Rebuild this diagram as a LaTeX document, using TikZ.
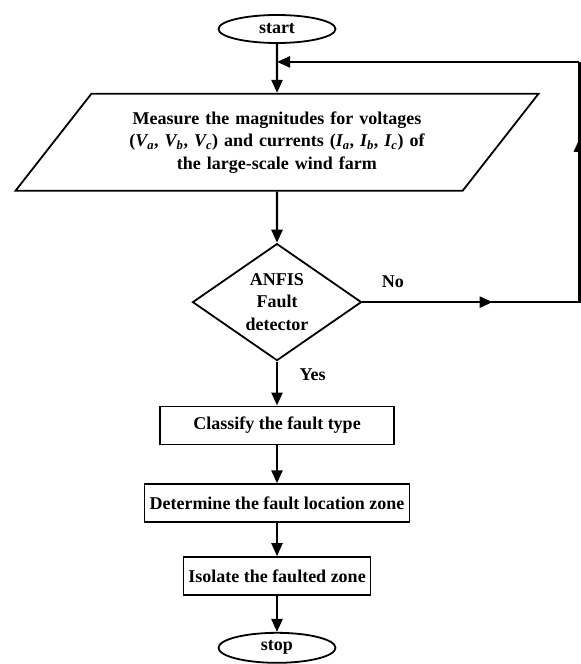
\documentclass[tikz,border=0pt]{standalone}
\usepackage{fontspec}
\setmainfont{Liberation Serif}
\usetikzlibrary{shapes.geometric, arrows.meta, positioning}
\newcommand{\flowfont}{\fontsize{18}{22.5}\selectfont\bfseries}
\tikzset{
  startstop/.style={ellipse, draw, line width=1.8pt, minimum width=117pt,
    minimum height=28pt, inner sep=0pt, font=\flowfont},
  io/.style={trapezium, trapezium left angle=42, trapezium right angle=138,
    trapezium stretches body, draw, line width=1.8pt, text width=300pt,
    align=center, minimum width=523pt, minimum height=97pt, font=\flowfont},
  decision/.style={diamond, aspect=1.44, draw, line width=1.8pt, minimum width=169pt,
    minimum height=117pt, inner sep=0pt, align=center, font=\flowfont},
  process/.style={rectangle, draw, line width=1.8pt, minimum height=38pt,
    inner xsep=2pt, font=\flowfont},
  lbl/.style={font=\flowfont},
  arrow/.style={-{Triangle[length=13pt,width=11pt]}, line width=2.4pt},
  line/.style={line width=2.4pt}
}

\begin{document}
\begin{tikzpicture}
  \useasboundingbox (0,0) rectangle (581pt,-664pt);

  % Nodes
  \node[startstop] (start) at (277pt,-29pt) {start};
  \node[io, below=49pt of start] (meas) {Measure the magnitudes for voltages\\
    (\textit{V\textsubscript{a}}, \textit{V\textsubscript{b}}, \textit{V\textsubscript{c}}) and currents
    (\textit{I\textsubscript{a}}, \textit{I\textsubscript{b}}, \textit{I\textsubscript{c}}) of\\
    the large-scale wind farm};
  \node[decision, below=51pt of meas] (det) {ANFIS\\Fault\\detector};
  \node[process, minimum width=234pt, below=44pt of det] (classify) {Classify the fault type};
  \node[process, minimum width=265pt, below=38pt of classify] (locate) {Determine the fault location zone};
  \node[process, minimum width=187pt, below=33pt of locate] (isolate) {Isolate the faulted zone};
  \node[startstop, minimum height=30pt, below=36pt of isolate] (stop) {stop};

  % Feedback loop corners
  \coordinate[below=18pt of start.south] (join);
  \coordinate[right=217pt of det.east] (loopR);
  \coordinate (loopT) at (loopR |- join);

  % Arrows
  \draw[arrow] (start) -- (meas);
  \draw[arrow] (meas) -- (det);
  \draw[arrow] (det) -- node[lbl, pos=0.29, right=18pt] {Yes} (classify);
  \draw[arrow] (classify) -- (locate);
  \draw[arrow] (locate) -- (isolate);
  \draw[arrow] (isolate) -- (stop);

  \draw[line] (det.east) -- node[lbl, pos=0.14, above=10pt] {No} coordinate[pos=0.6] (noTip) (loopR)
    -- coordinate[pos=0.68] (upTip) (loopT);
  \draw[arrow] (det.east) -- (noTip);
  \draw[arrow] (loopR) -- (upTip);
  \draw[arrow] (loopT) -- (join);

\end{tikzpicture}
\end{document}
